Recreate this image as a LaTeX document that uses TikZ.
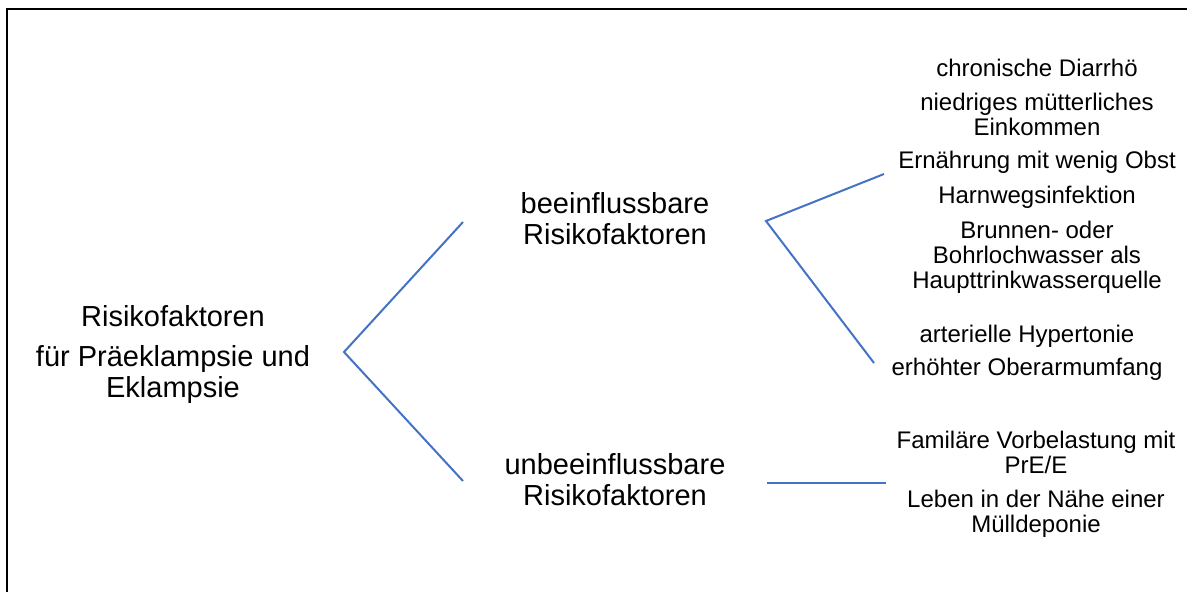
\documentclass[tikz,border=0pt]{standalone}
\usepackage{fontspec}
\setmainfont{Liberation Sans}
\definecolor{linkblue}{HTML}{4472C4}
\begin{document}
\begin{tikzpicture}[x=1pt,y=-1pt,
  bigtext/.style={font=\fontsize{29}{31}\selectfont, align=center, inner sep=0pt, anchor=base},
  smalltext/.style={font=\fontsize{24}{25}\selectfont, align=center, inner sep=0pt, anchor=base},
  link/.style={draw=linkblue, line width=2pt}]
\useasboundingbox (0,0) rectangle (1187,592);
\begin{scope}
\clip (0,0) rectangle (1187,592);
\draw[line width=2pt] (7,620) -- (7,9) -- (1220,9);
\end{scope}
% texts (anchor base = baseline of the last line)
\node[bigtext] (root) at (173,397) {Risikofaktoren\\[9pt]für Präeklampsie und\\Eklampsie};
\node[bigtext] (mod) at (615,244) {beeinflussbare\\Risikofaktoren};
\node[bigtext] (unmod) at (615,505) {unbeeinflussbare\\Risikofaktoren};
\node[smalltext] (a1) at (1037,76) {chronische Diarrhö};
\node[smalltext] (a2) at (1037,135) {niedriges mütterliches\\Einkommen};
\node[smalltext] (a3) at (1037,168) {Ernährung mit wenig Obst};
\node[smalltext] (a4) at (1037,203) {Harnwegsinfektion};
\node[smalltext] (a5) at (1037,288) {Brunnen- oder\\Bohrlochwasser als\\Haupttrinkwasserquelle};
\node[smalltext] (b1) at (1027,342) {arterielle Hypertonie};
\node[smalltext] (b2) at (1027,375) {erhöhter Oberarmumfang};
\node[smalltext] (c1) at (1036,473) {Familäre Vorbelastung mit\\PrE/E};
\node[smalltext] (c2) at (1036,532) {Leben in der Nähe einer\\Mülldeponie};
% connector points
\coordinate (rootpt) at (344,352);
\coordinate (modin) at (463,222);
\coordinate (unmodin) at (463,481);
\coordinate (modout) at (766,221);
\coordinate (modup) at (884,174);
\coordinate (moddown) at (874,363);
\coordinate (unmodout) at (767,483);
\coordinate (unmodend) at (886,483);
\draw[link] (modin) -- (rootpt) -- (unmodin);
\draw[link] (modup) -- (modout) -- (moddown);
\draw[link] (unmodout) -- (unmodend);
\end{tikzpicture}
\end{document}
